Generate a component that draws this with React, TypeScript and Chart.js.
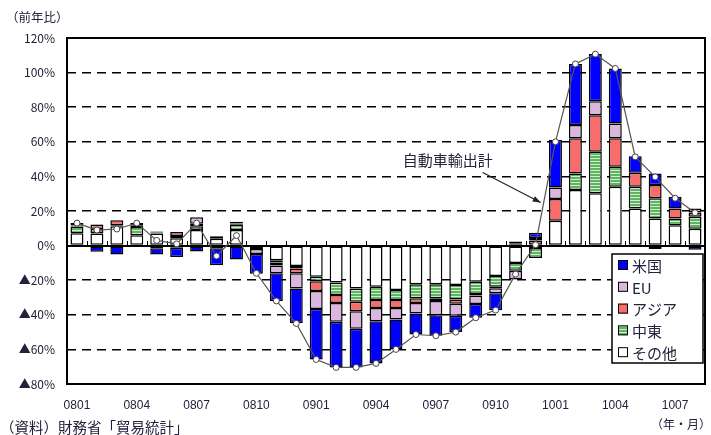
import React, { useEffect, useRef } from 'react';
import { Chart, registerables } from 'chart.js';

Chart.register(...registerables);

// Months (yymm)
const months = [
  '0801', '0802', '0803', '0804', '0805', '0806', '0807', '0808', '0809', '0810', '0811', '0812',
  '0901', '0902', '0903', '0904', '0905', '0906', '0907', '0908', '0909', '0910', '0911', '0912',
  '1001', '1002', '1003', '1004', '1005', '1006', '1007', '1008',
];

// Contribution by destination (percentage points of y/y change)
const others = [
  7.2, 7.0, 11.2, 6.0, 7.0, 4.2, 9.0, 4.0, 9.0, -0.8, -8.4, -11.8,
  -18.0, -21.3, -24.8, -23.8, -25.7, -22.3, -22.3, -22.8, -20.9, -17.6, -10.0, -1.4,
  14.3, 32.1, 30.2, 34.0, 21.4, 15.7, 11.8, 9.8,
];
const middleEast = [
  3.8, 2.6, 0.6, 4.8, 0.6, 1.4, 2.2, 1.4, 3.0, -0.6, -1.3, -1.4,
  -2.6, -7.3, -7.7, -7.7, -5.8, -8.2, -8.2, -8.3, -7.1, -6.2, -4.6, -5.8,
  -0.8, 9.6, 24.0, 11.6, 12.6, 11.6, 3.9, 6.9,
];
const asia = [
  0.6, 2.4, 2.8, 1.0, 0.6, 2.2, 1.4, 0.0, 0.8, -0.6, -1.8, -2.8,
  -5.6, -4.6, -5.5, -4.6, -4.6, -2.7, -1.5, -2.5, -0.8, -0.8, 1.4, 3.0,
  12.6, 20.3, 21.2, 16.4, 8.1, 7.7, 5.8, 2.4,
];
const eu = [
  1.4, 0.4, 0.2, 1.2, -1.6, -1.2, 3.8, -1.6, 1.0, -2.8, -4.5, -8.8,
  -10.4, -10.8, -10.0, -7.6, -6.6, -6.0, -8.2, -7.0, -5.0, -3.0, -5.0, 1.4,
  6.7, 7.7, 8.1, 8.6, -0.4, -2.0, -0.8, 2.3,
];
const us = [
  0.0, -3.6, -5.2, 0.0, -3.6, -5.4, -3.4, -9.8, -8.0, -11.4, -16.0, -20.0,
  -29.2, -26.4, -22.4, -24.4, -17.3, -12.2, -11.9, -9.4, -7.9, -9.7, 1.0, 3.0,
  27.4, 35.2, 27.2, 31.8, 9.6, 6.7, 6.7, -2.4,
];
// Total automobile exports, y/y %
const totalAuto = [
  13.0, 9.0, 9.6, 13.0, 3.0, 1.0, 13.0, -6.0, 5.8, -16.0, -32.0, -45.0,
  -65.8, -70.4, -70.4, -68.1, -60.0, -51.4, -52.1, -50.0, -41.7, -37.3, -16.5, 0.5,
  60.0, 105.0, 110.7, 102.4, 51.3, 39.7, 27.4, 19.0,
];

const yMin = -80;
const yMax = 120;
const yStep = 20;

const TEXT = '#22223a';
const LATIN = '"Liberation Sans", Arial, sans-serif';
const CJK = '"Noto Sans CJK JP", sans-serif';

function makeStripes(): CanvasPattern | string {
  const c = document.createElement('canvas');
  c.width = 4;
  c.height = 3;
  const g = c.getContext('2d');
  if (!g) return '#5cb85c';
  g.fillStyle = '#5db65d';
  g.fillRect(0, 0, 4, 3);
  g.fillStyle = '#d3edd3';
  g.fillRect(0, 2, 4, 1);
  return g.createPattern(c, 'repeat') || '#5cb85c';
}

const framePlugin = {
  id: 'frameAndZero',
  beforeDatasetsDraw(chart: any) {
    const { ctx, chartArea: a, scales } = chart;
    const y0 = Math.round(scales.y.getPixelForValue(0));
    ctx.save();
    ctx.strokeStyle = '#000';
    ctx.lineWidth = 2;
    ctx.strokeRect(a.left, a.top, a.right - a.left, a.bottom - a.top);
    ctx.beginPath();
    ctx.moveTo(a.left, y0);
    ctx.lineTo(a.right, y0);
    ctx.stroke();
    ctx.lineWidth = 1;
    for (let i = 0; i < months.length - 1; i++) {
      const x = Math.round((scales.x.getPixelForValue(i) + scales.x.getPixelForValue(i + 1)) / 2) + 0.5;
      ctx.beginPath();
      ctx.moveTo(x, y0);
      ctx.lineTo(x, y0 - 5);
      ctx.stroke();
    }
    ctx.restore();
  },
};

const overlayPlugin = {
  id: 'overlay',
  afterDraw(chart: any) {
    const { ctx, chartArea: a, scales } = chart;
    ctx.save();

    // legend box
    const w = 91;
    const h = 109;
    const lx = a.right - 2 - w;
    const ly = a.bottom - 21 - h;
    ctx.fillStyle = '#fff';
    ctx.fillRect(lx, ly, w, h);
    ctx.strokeStyle = '#000';
    ctx.lineWidth = 1.5;
    ctx.strokeRect(lx, ly, w, h);
    const items = chart.data.datasets.slice(0, 5).reverse();
    items.forEach((d: any, k: number) => {
      const cy = ly + 11 + k * 21.8;
      ctx.fillStyle = d.backgroundColor;
      ctx.fillRect(lx + 6, cy - 5, 10, 10);
      ctx.lineWidth = 1;
      ctx.strokeStyle = '#000';
      ctx.strokeRect(lx + 6.5, cy - 4.5, 9, 9);
      ctx.fillStyle = TEXT;
      ctx.font = '15px ' + CJK;
      ctx.textAlign = 'left';
      ctx.textBaseline = 'middle';
      ctx.fillText(d.label, lx + 20, cy + 1);
    });

    // callout for the total line
    const i = 23;
    const t = 0.41;
    const x1 = scales.x.getPixelForValue(i);
    const y1 = scales.y.getPixelForValue(totalAuto[i]);
    const x2 = scales.x.getPixelForValue(i + 1);
    const y2 = scales.y.getPixelForValue(totalAuto[i + 1]);
    const tipX = x1 + (x2 - x1) * t - 3;
    const tipY = y1 + (y2 - y1) * t;
    const tailX = tipX - 58;
    const tailY = tipY - 30;
    ctx.strokeStyle = '#222';
    ctx.fillStyle = '#222';
    ctx.lineWidth = 1.2;
    ctx.beginPath();
    ctx.moveTo(tailX, tailY);
    ctx.lineTo(tipX, tipY);
    ctx.stroke();
    const ang = Math.atan2(tipY - tailY, tipX - tailX);
    ctx.beginPath();
    ctx.moveTo(tipX, tipY);
    ctx.lineTo(tipX - 8 * Math.cos(ang) + 3 * Math.sin(ang), tipY - 8 * Math.sin(ang) - 3 * Math.cos(ang));
    ctx.lineTo(tipX - 8 * Math.cos(ang) - 3 * Math.sin(ang), tipY - 8 * Math.sin(ang) + 3 * Math.cos(ang));
    ctx.closePath();
    ctx.fill();
    ctx.fillStyle = TEXT;
    ctx.font = '15px ' + CJK;
    ctx.textAlign = 'center';
    ctx.textBaseline = 'middle';
    ctx.fillText('自動車輸出計', tipX - 93, tipY - 42);

    // captions
    ctx.font = '12.5px ' + CJK;
    ctx.textAlign = 'left';
    ctx.fillText('（前年比）', 6, 17);
    ctx.font = '14.5px ' + CJK;
    ctx.fillText('（資料）財務省「貿易統計」', 0, 427);
    ctx.font = '12px ' + CJK;
    ctx.textAlign = 'right';
    ctx.fillText('（年・月）', 711, 424);
    ctx.restore();
  },
};

export default function App() {
  const ref = useRef<HTMLCanvasElement>(null);

  useEffect(() => {
    if (!ref.current) return;
    const stripes = makeStripes();
    const barCommon = {
      type: 'bar' as const,
      stack: 'regions',
      borderColor: '#000',
      borderWidth: 1.5,
      borderSkipped: false as const,
      barPercentage: 0.65,
      categoryPercentage: 1,
    };
    const chart = new Chart(ref.current, {
      type: 'bar',
      data: {
        labels: months,
        datasets: [
          { ...barCommon, label: 'その他', data: others, backgroundColor: '#ffffff' },
          { ...barCommon, label: '中東', data: middleEast, backgroundColor: stripes as any },
          { ...barCommon, label: 'アジア', data: asia, backgroundColor: '#f86c6c' },
          { ...barCommon, label: 'EU', data: eu, backgroundColor: '#dbb6df' },
          { ...barCommon, label: '米国', data: us, backgroundColor: '#0000ff' },
          {
            type: 'line',
            label: '自動車輸出計',
            data: totalAuto,
            stack: 'total',
            order: -1,
            borderColor: '#555',
            borderWidth: 1.2,
            pointRadius: 3,
            pointBorderWidth: 1,
            pointBackgroundColor: '#fff',
            pointBorderColor: '#444',
            tension: 0,
          } as any,
        ],
      },
      options: {
        responsive: false,
        animation: false,
        devicePixelRatio: 1,
        layout: { padding: { top: 38, right: 6, bottom: 0, left: 0 } },
        plugins: {
          legend: { display: false },
          tooltip: { enabled: false },
        },
        scales: {
          x: {
            type: 'category',
            stacked: true,
            offset: true,
            grid: { display: false, drawTicks: false },
            border: { display: false },
            afterFit: (s: any) => {
              s.height = 51;
            },
            ticks: {
              autoSkip: false,
              maxRotation: 0,
              minRotation: 0,
              padding: 14,
              color: TEXT,
              font: { family: LATIN, size: 12 },
              callback: (_v: any, index: number) => (index % 3 === 0 ? months[index] : ''),
            },
          },
          y: {
            stacked: true,
            min: yMin,
            max: yMax,
            afterFit: (s: any) => {
              s.width = 67;
            },
            grid: {
              drawTicks: false,
              lineWidth: 1.6,
              color: (c: any) =>
                c.tick && (c.tick.value === 0 || c.tick.value === yMin || c.tick.value === yMax)
                  ? 'rgba(0,0,0,0)'
                  : '#000',
            },
            border: { display: false, dash: [9, 6] },
            ticks: {
              stepSize: yStep,
              padding: 12,
              color: TEXT,
              font: { family: CJK, size: 12 },
              callback: (v: any) => (Number(v) < 0 ? '▲' + -Number(v) + '%' : v + '%'),
            },
          },
        },
      },
      plugins: [framePlugin, overlayPlugin],
    });
    return () => chart.destroy();
  }, []);

  return (
    <div style={{ position: 'fixed', left: 0, top: 0, width: 711, height: 435, background: '#fff' }}>
      <canvas ref={ref} width={711} height={435} />
    </div>
  );
}
